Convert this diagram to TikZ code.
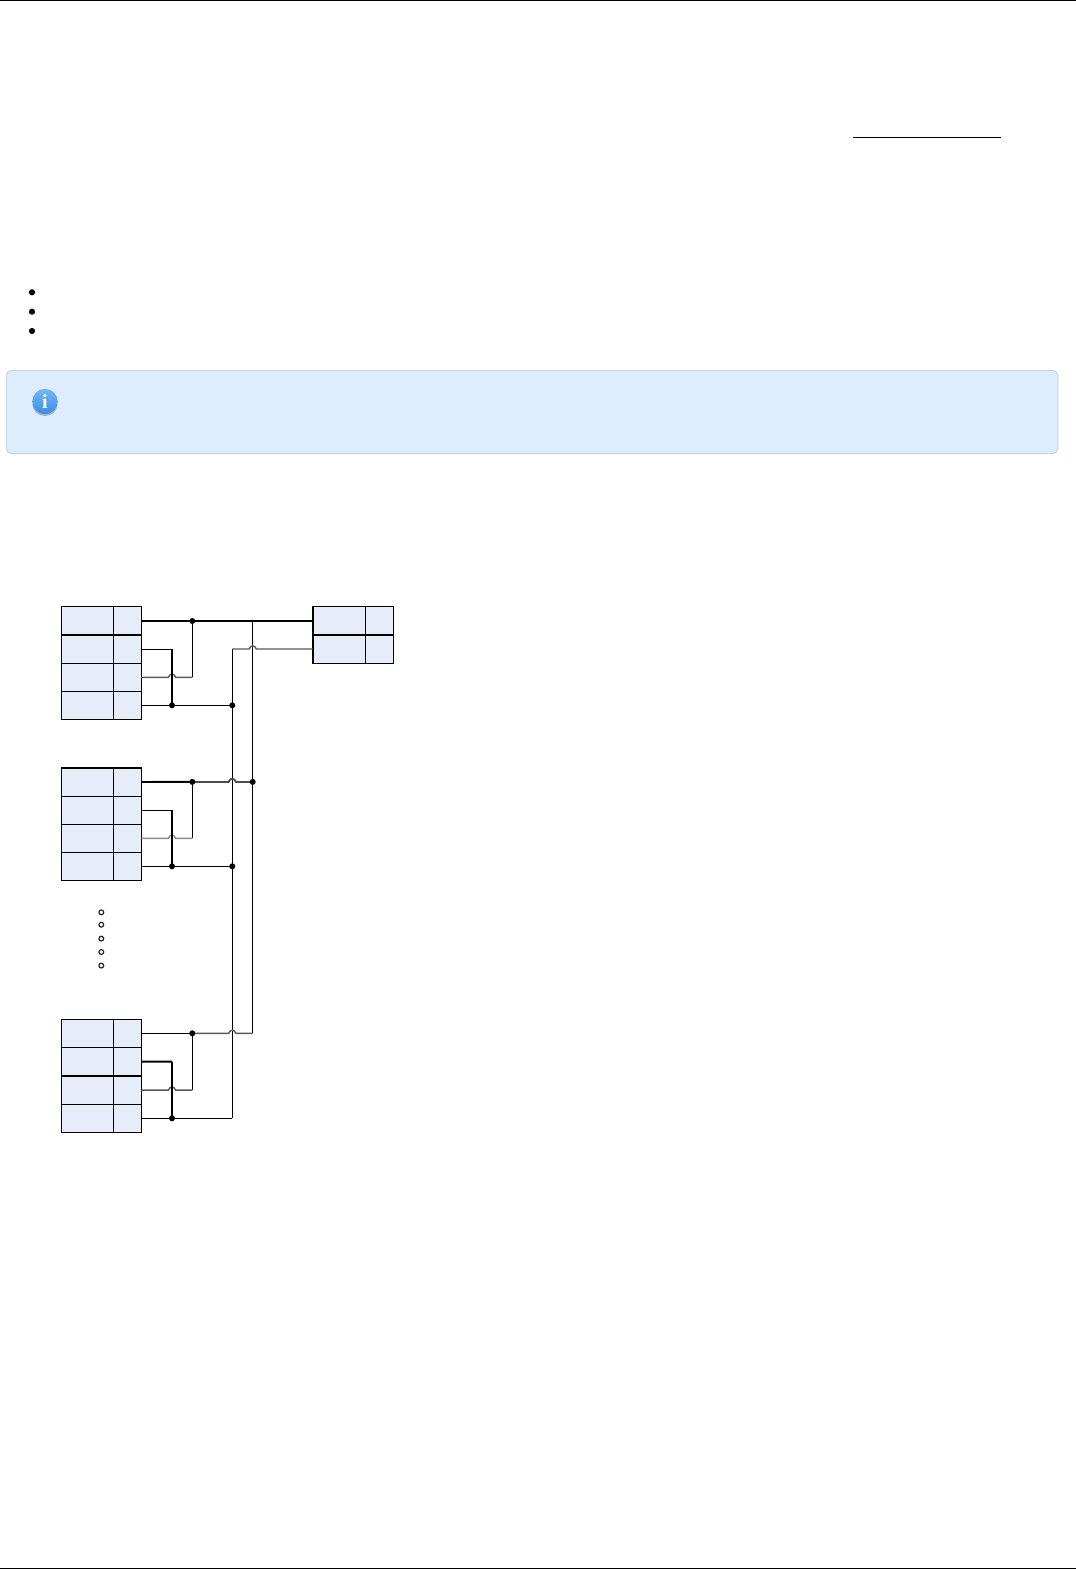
\documentclass[tikz,border=0pt]{standalone}
\usepackage{fontspec}
\setmainfont{Liberation Serif}
\definecolor{cellblue}{HTML}{E6EDF8}
\definecolor{noteblue}{HTML}{DDECFE}
\definecolor{noteedge}{HTML}{C2D5EC}
\definecolor{halfgray}{HTML}{585858}
\definecolor{lightgray}{HTML}{8A8A8A}
\definecolor{iconlight}{HTML}{74B8F4}
\definecolor{icondark}{HTML}{3A8CE6}
\definecolor{iconshadow}{HTML}{A9B6C6}
\tikzset{
  cell/.style={draw=black,fill=cellblue,line width=0.9pt,inner sep=0pt,outer sep=0pt,anchor=north west,rectangle},
  jdot/.style={circle,fill=black,inner sep=0pt,outer sep=0pt,minimum size=6pt},
  odot/.style={circle,draw=black!85,fill=white,line width=1.2pt,inner sep=0pt,outer sep=0pt,minimum size=4.8pt},
  bulletdot/.style={circle,fill=black,inner sep=0pt,outer sep=0pt,minimum size=6.2pt},
  wire/.style={draw=black,line width=0.9pt},
  wirethick/.style={draw=black,line width=1.9pt},
  wirehalf/.style={draw=halfgray,line width=1.4pt},
  wirelight/.style={draw=lightgray,line width=1.4pt},
  wiredark/.style={draw=black!70,line width=1.8pt}
}
% one row of a table: name, top y, height, left x, left width, right width
\newcommand{\tblrow}[6]{%
  \node[cell,minimum width=#5pt,minimum height=#3pt] (#1l) at (#4,#2) {};
  \node[cell,minimum width=#6pt,minimum height=#3pt] (#1r) at (#4+#5,#2) {};
}
\newcommand{\hopover}[1]{-- ([xshift=-3.6pt]#1) .. controls ([xshift=-2.2pt,yshift=4.2pt]#1) and ([xshift=2.2pt,yshift=4.2pt]#1) .. ([xshift=3.6pt]#1) --}
\begin{document}
\begin{tikzpicture}[x=1pt,y=-1pt]
\useasboundingbox (0,0) rectangle (1076,1569);
\fill[white] (0,0) rectangle (1076,1569);
% page rules
\coordinate (topL) at (0,0.5); \coordinate (topR) at (1076,0.5);
\coordinate (botL) at (0,1568.3); \coordinate (botR) at (1076,1568.3);
\draw[line width=1.2pt] (topL) -- (topR);
\draw[line width=1.2pt] (botL) -- (botR);
% underline of a link
\coordinate (ulL) at (853.3,137); \coordinate (ulR) at (1001,137);
\draw[line width=1pt] (ulL) -- (ulR);
% bullets
\node[bulletdot] (b1) at (32,292.3) {};
\node[bulletdot] (b2) at (32,311.7) {};
\node[bulletdot] (b3) at (32,331) {};
% note box
\node[draw=noteedge,fill=noteblue,line width=1pt,rounded corners=5pt,rectangle,inner sep=0pt,outer sep=0pt,
  anchor=north west,minimum width=1051.5pt,minimum height=83pt] (note) at (6.3,370.5) {};
\fill[iconshadow] (45,404.5) ellipse (12.5 and 11.5);
\shade[top color=iconlight,bottom color=icondark] (45,401.5) circle (12.7);
\node[text=white,font=\bfseries\fontsize{20pt}{20pt}\selectfont,inner sep=0pt] (infoi) at (45,401.5) {i};
% table A
\tblrow{aa}{606.3}{28.4}{61.3}{52}{28}
\tblrow{ab}{634.7}{28.6}{61.3}{52}{28}
\tblrow{ac}{663.3}{28}{61.3}{52}{28}
\tblrow{ad}{691.3}{28}{61.3}{52}{28}
% table R
\tblrow{ra}{606.3}{28.4}{312.7}{52.6}{28}
\tblrow{rb}{634.7}{28.6}{312.7}{52.6}{28}
% table B
\tblrow{ba}{767.6}{28.7}{61.3}{52}{28}
\tblrow{bb}{796.3}{28}{61.3}{52}{28}
\tblrow{bc}{824.3}{28}{61.3}{52}{28}
\tblrow{bd}{852.3}{28}{61.3}{52}{28}
% table C
\tblrow{ca}{1019.3}{28}{61.3}{52}{28}
\tblrow{cb}{1047.3}{28.7}{61.3}{52}{28}
\tblrow{cc}{1076}{28.3}{61.3}{52}{28}
\tblrow{cd}{1104.3}{28}{61.3}{52}{28}
% heavier grid lines
\draw[wirethick] (aal.south west) -- (aar.south east);
\draw[wirethick] (ral.south west) -- (rar.south east);
\draw[wirethick] (ral.north west) -- (rbl.south west);
\draw[wirethick] (bal.north west) -- (bar.north east);
\draw[wirethick] (cbl.south west) -- (cbr.south east);
% helpers: A
\coordinate (aT) at (192.3,621);
\coordinate (aE) at (192.3,677.3);
\coordinate (aV) at (172,649);
\coordinate (aH) at (172,677.3);
\coordinate (aB) at (172,705.3);
\coordinate (aJ) at (232.3,705.3);
\coordinate (vTop) at (232.3,649);
\coordinate (vHop) at (252.7,649);
\coordinate (bus) at (252.7,621);
\coordinate (aS) at (141.3,621);
\coordinate (rS) at (312.7,621);
% helpers: B
\coordinate (bT) at (192.3,781.9);
\coordinate (bE) at (192.3,838.3);
\coordinate (bV) at (172,810.3);
\coordinate (bH) at (172,838.3);
\coordinate (bB) at (172,866.3);
\coordinate (bJ) at (232.3,866.3);
\coordinate (bHop) at (232.3,781.9);
\coordinate (bBus) at (252.7,781.9);
% helpers: C
\coordinate (cT) at (192.3,1033.3);
\coordinate (cE) at (192.3,1090.1);
\coordinate (cV) at (172,1061.6);
\coordinate (cH) at (172,1090.1);
\coordinate (cB) at (172,1118.3);
\coordinate (cJ) at (232.3,1118.3);
\coordinate (cHop) at (232.3,1033.3);
\coordinate (cBus) at (252.7,1033.3);
% long verticals
\draw[wire] (vTop) -- (cJ);
\draw[wire] (bus) -- (cBus);
% group A wires
\draw[wirethick] (aS) -- (rS);
\draw[wire] (aT) -- (aE);
\draw[wirehalf] (acr.east) \hopover{aH} (aE);
\draw[wire] (abr.east) -- (aV);
\draw[wirethick] (aV) -- (aB);
\draw[wire] (adr.east) -- (aJ);
\draw[wirehalf] (vTop) \hopover{vHop} (rbl.west);
% group B wires
\draw[wirethick] (bar.east) -- (bT);
\draw[wiredark] (bT) \hopover{bHop} (bBus);
\draw[wire] (bT) -- (bE);
\draw[wirelight] (bcr.east) \hopover{bH} (bE);
\draw[wire] (bbr.east) -- (bV);
\draw[wirethick] (bV) -- (bB);
\draw[wire] (bdr.east) -- (bJ);
% group C wires
\draw[wire] (car.east) -- (cT);
\draw[wirehalf] (cT) \hopover{cHop} (cBus);
\draw[wire] (cT) -- (cE);
\draw[wirehalf] (ccr.east) \hopover{cH} (cE);
\draw[wirethick] (cbr.east) -- (cV);
\draw[wirethick] (cV) -- (cB);
\draw[wire] (cdr.east) -- (cJ);
% junctions
\node[jdot] (jaT) at (aT) {};
\node[jdot] (jaB) at (aB) {};
\node[jdot] (jaJ) at (aJ) {};
\node[jdot] (jbT) at (bT) {};
\node[jdot] (jbB) at (bB) {};
\node[jdot] (jbJ) at (bJ) {};
\node[jdot] (jbBus) at (bBus) {};
\node[jdot] (jcT) at (cT) {};
\node[jdot] (jcB) at (cB) {};
% ellipsis circles
\node[odot] (e1) at (101.3,912.3) {};
\node[odot] (e2) at (101.3,924.7) {};
\node[odot] (e3) at (101.3,938.6) {};
\node[odot] (e4) at (101.3,952) {};
\node[odot] (e5) at (101.3,965.6) {};
\end{tikzpicture}
\end{document}
